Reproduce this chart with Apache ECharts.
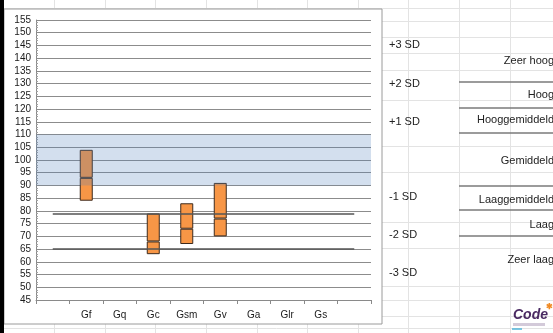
<!DOCTYPE html>
<html>
<head>
<meta charset="utf-8">
<script src="https://cdn.jsdelivr.net/npm/echarts@6/dist/echarts.min.js"></script>
<style>
  html, body { margin: 0; padding: 0; background: #fff; }
  #chart { width: 553px; height: 333px; }
</style>
</head>
<body>
<div id="chart"></div>
<script>
// categories on the x axis (first and last are empty slots)
const categories = ['', 'Gf', 'Gq', 'Gc', 'Gsm', 'Gv', 'Ga', 'Glr', 'Gs', ' ']
// box per category: bottom, middle line, top
const boxLow = [null, 84, null, 63, 67, 70, null, null, null, null]
const boxMedian = [null, 93, null, 68, 73, 77, null, null, null, null]
const boxHigh = [null, 104, null, 79, 83, 91, null, null, null, null]
// average band and the two reference lines
const bandRange = [90, 110]
const refLines = [79, 65]
// texts next to the chart
const sdLabels = ['+3 SD', '+2 SD', '+1 SD', '-1 SD', '-2 SD', '-3 SD']
const levelLabels = ['Zeer hoog', 'Hoog', 'Hooggemiddeld', 'Gemiddeld', 'Laaggemiddeld', 'Laag', 'Zeer laag']

const font = 'Liberation Sans'
const chart = echarts.init(document.getElementById('chart'))

const lowerPart = boxLow.map((v, i) => v == null ? null : boxMedian[i] - v)
const upperPart = boxHigh.map((v, i) => v == null ? null : v - boxMedian[i])

// sheet cell lines behind the chart
const cellLines = []
const colX = [54, 105, 155, 206, 257, 307, 358, 408, 459, 510]
colX.forEach(x => {
  cellLines.push({ type: 'line', shape: { x1: x + 0.5, y1: 0, x2: x + 0.5, y2: 333 }, style: { stroke: '#e3e3e3', lineWidth: 1 }, z: -10 })
})
const rowY = [8, 21, 37, 53, 70, 100, 146, 172, 222, 248, 286, 300, 316, 328]
rowY.forEach(y => {
  cellLines.push({ type: 'line', shape: { x1: 0, y1: y + 0.5, x2: 553, y2: y + 0.5 }, style: { stroke: '#e3e3e3', lineWidth: 1 }, z: -10 })
})

const sdY = [45, 84, 122, 197, 235, 273]
const levelY = [61, 95, 120, 161, 200, 225, 260]
const borderY = [82, 108, 133, 186, 210, 236]

const graphics = [
  ...cellLines,
  // chart area
  { type: 'rect', shape: { x: 4, y: 9, width: 378, height: 315 }, style: { fill: '#fff', stroke: '#9a9a9a', lineWidth: 1 }, z: -5 },
  { type: 'rect', shape: { x: 0, y: 0, width: 4, height: 333 }, style: { fill: '#000' }, z: 10 },
  ...sdLabels.map((t, i) => ({
    type: 'text', x: 389, y: sdY[i],
    style: { text: t, font: '11px ' + font, fill: '#222', textVerticalAlign: 'middle' }
  })),
  ...levelLabels.map((t, i) => ({
    type: 'text', x: 554, y: levelY[i],
    style: { text: t, font: '11px ' + font, fill: '#222', textAlign: 'right', textVerticalAlign: 'middle' }
  })),
  ...borderY.map(y => ({
    type: 'line', shape: { x1: 459, y1: y, x2: 553, y2: y }, style: { stroke: '#7a7a7a', lineWidth: 1.5 }
  })),
  // logo
  { type: 'text', x: 513, y: 315, style: { text: 'Code', font: 'italic bold 14px ' + font, fill: '#4a2a62', textVerticalAlign: 'middle' } },
  { type: 'text', x: 546, y: 307, style: { text: '✱', font: 'bold 8px ' + font, fill: '#f08a24', textVerticalAlign: 'middle' } },
  { type: 'rect', shape: { x: 513, y: 323, width: 32, height: 3 }, style: { fill: '#d3cad9' } },
  { type: 'line', shape: { x1: 512, y1: 329, x2: 522, y2: 329 }, style: { stroke: '#4fb3d9', lineWidth: 1.5 } }
]

chart.setOption({
  animation: false,
  backgroundColor: '#fff',
  textStyle: { fontFamily: font },
  grid: { left: 36, right: 182, top: 20, bottom: 33 },
  xAxis: {
    type: 'category',
    data: categories,
    boundaryGap: true,
    axisLine: { lineStyle: { color: '#8a8a8a', width: 1 } },
    axisTick: { show: true, interval: 0, length: 4, lineStyle: { color: '#8a8a8a' } },
    axisLabel: { interval: 0, color: '#1a1a1a', fontSize: 10, margin: 10 }
  },
  yAxis: {
    type: 'value',
    min: 45,
    max: 155,
    interval: 5,
    axisLine: { show: true, lineStyle: { color: '#8a8a8a' } },
    axisTick: { show: true, inside: true, length: 3, lineStyle: { color: '#8a8a8a' } },
    minorTick: { show: true, splitNumber: 5, length: 2, lineStyle: { color: '#a0a0a0' } },
    axisLabel: { color: '#1a1a1a', fontSize: 10, margin: 5 },
    splitLine: { lineStyle: { color: '#8c8c8c', width: 1 } }
  },
  series: [
    {
      type: 'bar', stack: 'box', barWidth: 13, silent: true, z: 2,
      itemStyle: { color: 'transparent' },
      data: boxLow
    },
    {
      type: 'bar', stack: 'box', barWidth: 13, z: 2,
      itemStyle: { color: '#f79646', borderColor: '#3d2a1c', borderWidth: 1 },
      data: lowerPart
    },
    {
      type: 'bar', stack: 'box', barWidth: 13, z: 2,
      itemStyle: { color: '#f79646', borderColor: '#3d2a1c', borderWidth: 1 },
      data: upperPart
    },
    {
      type: 'line', z: 8, silent: true, data: [],
      markArea: {
        silent: true, z: 8,
        itemStyle: { color: 'rgba(79,129,189,0.25)' },
        data: [[{ yAxis: bandRange[0] }, { yAxis: bandRange[1] }]]
      }
    },
    {
      type: 'line', z: 9, silent: true, data: [],
      markLine: {
        silent: true, symbol: 'none', label: { show: false }, z: 9,
        lineStyle: { color: '#555', width: 1.5, type: 'solid' },
        data: refLines.map(v => [{ coord: [0, v] }, { coord: [categories.length - 1, v] }])
      }
    }
  ],
  graphic: graphics
})
</script>
</body>
</html>
